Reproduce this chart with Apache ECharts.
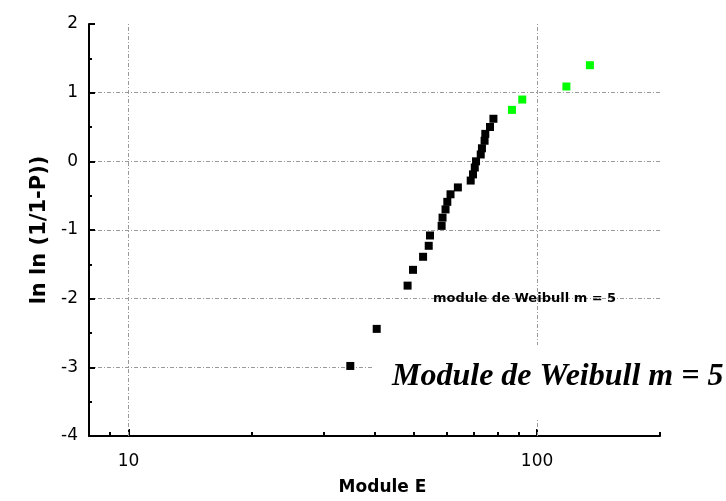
<!DOCTYPE html>
<html>
<head>
<meta charset="utf-8">
<script src="https://cdn.jsdelivr.net/npm/echarts@6/dist/echarts.min.js"></script>
<style>html,body{margin:0;padding:0;background:#fff}#c{width:726px;height:501px}</style>
</head>
<body>
<div id="c"></div>
<script>
// Black points (Module E, ln ln(1/(1-P)))
var blackX = [34.9, 40.5, 48.2, 49.7, 52.6, 54.3, 54.7, 58.4, 58.7, 59.7, 60.3, 61.4, 64.0, 68.8, 69.7, 70.4, 70.9, 72.8, 73.3, 74.4, 74.7, 76.7, 78.2];
var blackY = [-2.98, -2.44, -1.81, -1.58, -1.39, -1.23, -1.08, -0.94, -0.82, -0.70, -0.59, -0.48, -0.38, -0.28, -0.19, -0.09, 0.00, 0.10, 0.19, 0.30, 0.40, 0.50, 0.62];
// Green points
var greenX = [86.8, 92.0, 118.0, 134.7];
var greenY = [0.75, 0.90, 1.09, 1.40];
var xMajorTicks = [10, 100];
var xMinorTicks = [9, 20, 30, 40, 50, 60, 70, 80, 90, 200];
var xMin = 8, xMax = 200;
var yMin = -4, yMax = 2, yStep = 1;
var xTitle = 'Module E';
var yTitle = 'ln ln (1/1-P))';
var smallNote = 'module de Weibull m = 5';
var bigNote = 'Module de Weibull m = 5';

function pairs(xs, ys){ return xs.map(function(x,i){return [x, ys[i]];}); }

var gridStyle = {color:'#9a9a9a', width:1, type:[4,2,1,2]};
var chart = echarts.init(document.getElementById('c'), null, {renderer:'canvas'});
chart.setOption({
  animation:false,
  backgroundColor:'#fff',
  grid:{left:89, right:66, top:24, bottom:65},
  xAxis:[{
    type:'log', logBase:10, min:xMin, max:xMax, position:'bottom',
    name:xTitle, nameLocation:'middle', nameGap:43,
    nameTextStyle:{fontFamily:'DejaVu Sans', fontWeight:'bold', fontSize:17, color:'#000', padding:[0,0,0,16]},
    axisLine:{show:true, onZero:false, lineStyle:{color:'#000', width:2}},
    axisTick:{show:true, inside:true, length:7, customValues:xMajorTicks, lineStyle:{color:'#000', width:2}},
    axisLabel:{show:true, customValues:xMajorTicks, margin:17, fontFamily:'DejaVu Sans', fontSize:17, color:'#000'},
    splitLine:{show:false},
    minorTick:{show:false}, minorSplitLine:{show:false}
  },{
    type:'log', logBase:10, min:xMin, max:xMax, position:'bottom', offset:0,
    axisLine:{show:false, onZero:false},
    axisTick:{show:true, inside:true, length:4, customValues:xMinorTicks, lineStyle:{color:'#000', width:2}},
    axisLabel:{show:false},
    splitLine:{show:false}
  }],
  yAxis:{
    type:'value', min:yMin, max:yMax, interval:yStep,
    name:yTitle, nameLocation:'middle', nameGap:34, nameRotate:90,
    nameTextStyle:{fontFamily:'DejaVu Sans', fontWeight:'bold', fontSize:21, color:'#000'},
    axisLine:{show:true, onZero:false, lineStyle:{color:'#000', width:2}},
    axisTick:{show:true, inside:true, length:6, lineStyle:{color:'#000', width:2}},
    minorTick:{show:true, splitNumber:2, length:3, lineStyle:{color:'#000', width:2}},
    axisLabel:{margin:11, fontFamily:'DejaVu Sans', fontSize:17, color:'#000'},
    splitLine:{show:true, lineStyle:gridStyle, showMinLine:false, showMaxLine:false}
  },
  series:[
    {type:'scatter', xAxisIndex:0, symbol:'rect', symbolSize:8, itemStyle:{color:'#000', opacity:1}, data:pairs(blackX, blackY), z:5,
     markLine:{silent:true, symbol:'none', label:{show:false}, lineStyle:gridStyle, emphasis:{disabled:true},
       data:xMajorTicks.map(function(v){return {xAxis:v};})}},
    {type:'scatter', xAxisIndex:0, symbol:'rect', symbolSize:8, itemStyle:{color:'#00ff00', opacity:1}, data:pairs(greenX, greenY), z:5}
  ],
  graphic:[
    {type:'text', left:433, top:292, z:10, style:{text:smallNote, fill:'#000', font:'bold 13px "DejaVu Sans"'}},
    {type:'rect', shape:{x:372, y:345, width:354, height:73}, style:{fill:'#fff'}, z:8, silent:true},
    {type:'text', left:392, top:361, z:10, style:{text:bigNote, fill:'#000', font:'italic bold 32px "Liberation Serif"'}}
  ]
});
</script>
</body>
</html>
